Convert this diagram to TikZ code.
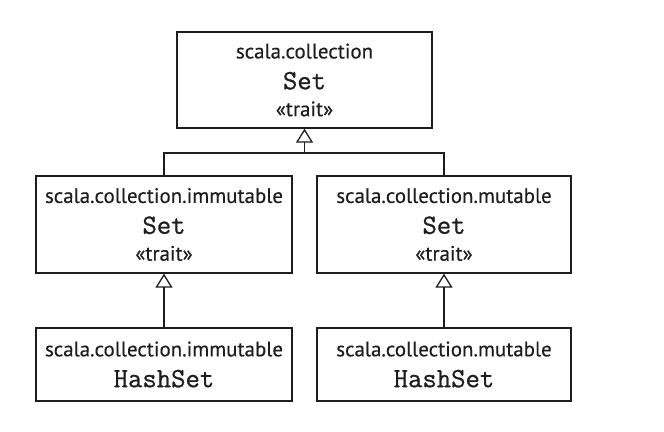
\documentclass[tikz,border=0pt]{standalone}
\usepackage{fontspec}
\setsansfont{PT Sans}[FakeBold=0.3]
\setmonofont{Latin Modern Mono}[FakeBold=0.8]
\usetikzlibrary{arrows.meta}
\definecolor{ink}{HTML}{1E1E1E}
\newcommand{\pkgfont}{\sffamily\fontsize{21}{30}\selectfont}
\newcommand{\typefont}{\ttfamily\fontsize{28}{30}\selectfont}
\tikzset{
  umlbox/.style={draw=ink, line width=1.3bp, rectangle, align=center, text=ink,
    inner sep=0pt, font=\pkgfont},
  link/.style={draw=ink, line width=1.3bp},
  inherit/.style={link, -{Triangle[open, length=14bp, width=17bp, line width=1.3bp]}}
}
\begin{document}
\begin{tikzpicture}[x=1bp, y=-1bp]
\useasboundingbox (0,0) rectangle (664,431);
\fill[white] (0,0) rectangle (664,431);

\node[umlbox, minimum width=255bp, minimum height=96bp] (top) at (304.5,80)
  {scala.collection\\[1bp]{\typefont Set}\\[-3bp]«trait»};
\node[umlbox, minimum width=256bp, minimum height=97bp] (imm) at (164,224.5)
  {scala.collection.immutable\\[1bp]{\typefont Set}\\[-3bp]«trait»};
\node[umlbox, minimum width=254bp, minimum height=97bp] (mut) at (444,224.5)
  {scala.collection.mutable\\[1bp]{\typefont Set}\\[-3bp]«trait»};
\node[umlbox, minimum width=256bp, minimum height=73bp] (immh) at (164,364.5)
  {scala.collection.immutable\\[1bp]{\typefont HashSet}};
\node[umlbox, minimum width=254bp, minimum height=73bp] (muth) at (444,364.5)
  {scala.collection.mutable\\[1bp]{\typefont HashSet}};

\coordinate (join) at (top.south |- 0,153);
\draw[link] (imm.north) |- (join) -| (mut.north);
\draw[inherit] (join) -- (top.south);
\draw[inherit] (immh.north) -- (imm.south);
\draw[inherit] (muth.north) -- (mut.south);
\end{tikzpicture}
\end{document}
